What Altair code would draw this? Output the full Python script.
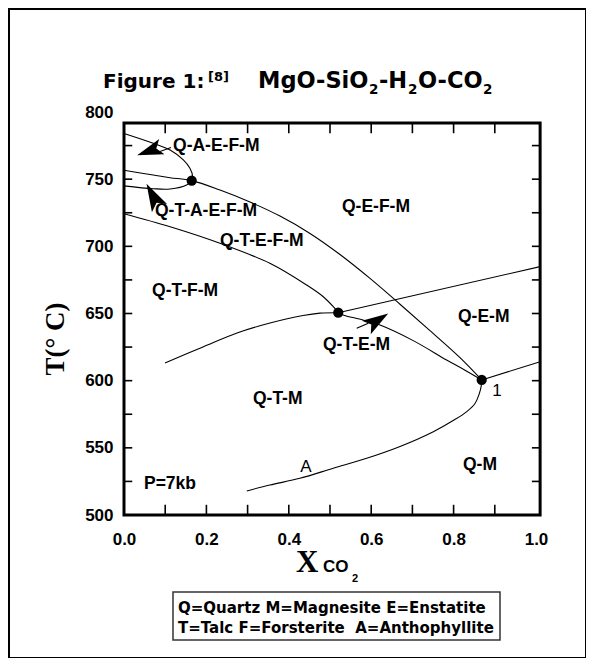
import altair as alt
import pandas as pd

# ---------------- data ----------------
# curves (x = X_CO2, y = T in deg C), listed in drawing order
anth_upper_x = [0.0, 0.071, 0.112, 0.144, 0.160, 0.1665, 0.164]
anth_upper_y = [784.0, 776.7, 771.7, 764.3, 758.1, 752.0, 749.0]

anth_lower_x = [0.164, 0.152, 0.112, 0.071, 0.0]
anth_lower_y = [749.0, 745.7, 742.7, 742.9, 745.0]

main_x = [0.0, 0.0711, 0.1117, 0.1643, 0.2330, 0.3058, 0.3786, 0.4515, 0.5243, 0.5971, 0.6699, 0.7427, 0.8155, 0.8682]
main_y = [756.6, 753.1, 751.1, 748.9, 741.9, 733.0, 722.5, 709.6, 693.9, 676.1, 656.9, 637.2, 617.1, 600.5]

tef_x = [0.0, 0.112, 0.233, 0.354, 0.4434, 0.4837, 0.508, 0.520]
tef_y = [724.3, 714.6, 702.3, 687.4, 671.2, 662.5, 655.1, 650.6]

tem_x = [0.520, 0.5316, 0.580, 0.6214, 0.702, 0.783, 0.8236, 0.8682]
tem_y = [650.6, 648.9, 645.2, 641.4, 629.8, 615.4, 608.5, 600.5]

qtm_left_x = [0.0995, 0.1917, 0.2743, 0.3544, 0.4345, 0.4757, 0.520]
qtm_left_y = [613.2, 625.1, 635.5, 642.9, 648.5, 650.3, 650.6]

qem_right_x = [0.520, 1.01]
qem_right_y = [650.6, 684.9]

inv1_right_x = [0.8682, 1.01]
inv1_right_y = [600.5, 614.1]

anthline_x = [0.8682, 0.867, 0.862, 0.852, 0.832, 0.800, 0.7508, 0.670, 0.589, 0.508, 0.427, 0.354, 0.298]
anthline_y = [600.5, 596.0, 590.0, 583.0, 577.0, 570.5, 562.0, 551.0, 542.2, 534.8, 527.3, 522.3, 517.9]

tail_a_x = [0.0874, 0.1141]
tail_a_y = [770.6, 773.6]
tail_b_x = [0.5648, 0.5930]
tail_b_y = [639.0, 642.7]

# invariant points
dot_x = [0.1643, 0.520, 0.8682]
dot_y = [748.9, 650.6, 600.5]

# arrowheads: centre, rotation (deg clockwise from up), size
arrow_x = [0.0619, 0.0704, 0.6148]
arrow_y = [771.0, 737.5, 644.8]
arrow_angle = [251, 332, 57]
arrow_size = [680, 760, 680]

# field labels
field_text = ["Q-A-E-F-M", "Q-T-A-E-F-M", "Q-T-E-F-M", "Q-T-F-M", "Q-E-F-M",
              "Q-E-M", "Q-T-E-M", "Q-T-M", "Q-M", "P=7kb"]
field_x = [0.119, 0.0752, 0.233, 0.068, 0.529, 0.8107, 0.483, 0.313, 0.8228, 0.0485]
field_y = [774.7, 726.3, 704.0, 666.8, 729.3, 647.4, 626.6, 586.4, 537.2, 523.1]

curve_text = ["A", "1"]
curve_tx = [0.4417, 0.9053]
curve_ty = [535.7, 592.3]

x_ticks_minor = [0.1, 0.2, 0.3, 0.4, 0.5, 0.6, 0.7, 0.8, 0.9]
y_ticks_minor = [525, 550, 575, 600, 625, 650, 675, 700, 725, 750, 775]
x_labels = [0.0, 0.2, 0.4, 0.6, 0.8, 1.0]
y_labels = [500, 550, 600, 650, 700, 750, 800]

legend_lines = ["Q=Quartz M=Magnesite E=Enstatite",
                "T=Talc F=Forsterite\u00a0 A=Anthophyllite"]

# frame of the plot area in data units, and inward tick lengths
X_LO, X_HI, Y_LO, Y_HI = 0.0, 1.01, 500.0, 791.8
TICK_DY = 7.6    # ~10 px
TICK_DX = 0.02   # ~8 px

# ---------------- build tables ----------------
curves = {
    "anth_upper": (anth_upper_x, anth_upper_y),
    "anth_lower": (anth_lower_x, anth_lower_y),
    "main": (main_x, main_y),
    "tef": (tef_x, tef_y),
    "tem": (tem_x, tem_y),
    "qtm_left": (qtm_left_x, qtm_left_y),
    "qem_right": (qem_right_x, qem_right_y),
    "inv1_right": (inv1_right_x, inv1_right_y),
    "anthline": (anthline_x, anthline_y),
    "tail_a": (tail_a_x, tail_a_y),
    "tail_b": (tail_b_x, tail_b_y),
}
rows = []
for name, (xs, ys) in curves.items():
    for i, (a, b) in enumerate(zip(xs, ys)):
        rows.append({"curve": name, "i": i, "x": a, "y": b})
curve_df = pd.DataFrame(rows)

tick_rows = []
for k, v in enumerate(x_ticks_minor):
    tick_rows += [{"curve": f"tb{k}", "i": 0, "x": v, "y": Y_LO},
                  {"curve": f"tb{k}", "i": 1, "x": v, "y": Y_LO + TICK_DY},
                  {"curve": f"tt{k}", "i": 0, "x": v, "y": Y_HI},
                  {"curve": f"tt{k}", "i": 1, "x": v, "y": Y_HI - TICK_DY}]
for k, v in enumerate(y_ticks_minor):
    tick_rows += [{"curve": f"tl{k}", "i": 0, "x": X_LO, "y": float(v)},
                  {"curve": f"tl{k}", "i": 1, "x": X_LO + TICK_DX, "y": float(v)},
                  {"curve": f"tr{k}", "i": 0, "x": X_HI, "y": float(v)},
                  {"curve": f"tr{k}", "i": 1, "x": X_HI - TICK_DX, "y": float(v)}]
tick_df = pd.DataFrame(tick_rows)

XS = alt.Scale(domain=[0, 1], nice=False, zero=False)
YS = alt.Scale(domain=[500, 800], nice=False, zero=False)

x_axis = alt.Axis(values=x_labels, format=".1f", title=None, ticks=False, tickSize=0,
                  domain=False, grid=False, labelFont="Liberation Sans", labelFontWeight="bold",
                  labelFontSize=17, labelPadding=16, labelColor="black", labelFlush=False,
                  labelOverlap=False)
y_axis = alt.Axis(values=y_labels, format="d", title=None, ticks=False, tickSize=0,
                  domain=False, grid=False, labelFont="Liberation Sans", labelFontWeight="bold",
                  labelFontSize=17, labelPadding=11, labelColor="black", labelOverlap=False)


def X(field="x"):
    return alt.X(f"{field}:Q", scale=XS, axis=x_axis)


def Y(field="y"):
    return alt.Y(f"{field}:Q", scale=YS, axis=y_axis)


lines = alt.Chart(curve_df).mark_line(color="black", strokeWidth=1.1,
                                      interpolate="catmull-rom").encode(
    x=X(), y=Y(), detail="curve:N", order="i:Q")

ticks = alt.Chart(tick_df).mark_line(color="black", strokeWidth=1.6,
                                     interpolate="linear").encode(
    x=X(), y=Y(), detail="curve:N", order="i:Q")

dots = alt.Chart(pd.DataFrame({"x": dot_x, "y": dot_y})).mark_circle(
    color="black", opacity=1, size=105).encode(x=X(), y=Y())

arrow_path = "M0,-1L0.62,1L0,0.55L-0.62,1Z"
arrows = alt.Chart(pd.DataFrame({"x": arrow_x, "y": arrow_y, "ang": arrow_angle,
                                 "sz": arrow_size})).mark_point(
    shape=arrow_path, filled=True, fill="black", strokeWidth=0, opacity=1).encode(
    x=X(), y=Y(), angle=alt.Angle("ang:Q", scale=None), size=alt.Size("sz:Q", scale=None))

fields = alt.Chart(pd.DataFrame({"x": field_x, "y": field_y, "t": field_text})).mark_text(
    align="left", baseline="middle", font="Liberation Sans", fontWeight="bold",
    fontSize=17.5, color="black").encode(x=X(), y=Y(), text="t:N")

clabels = alt.Chart(pd.DataFrame({"x": curve_tx, "y": curve_ty, "t": curve_text})).mark_text(
    align="center", baseline="middle", font="Liberation Sans", fontSize=17,
    color="black").encode(x=X(), y=Y(), text="t:N")

border = alt.Chart(pd.DataFrame({"x": [X_LO], "x2": [X_HI], "y": [Y_LO], "y2": [Y_HI]})).mark_rect(
    fillOpacity=0, stroke="black", strokeWidth=3).encode(x=X(), x2="x2:Q", y=Y(), y2="y2:Q")


def ann(text, x, y, **kw):
    style = dict(align="left", baseline="alphabetic", color="black")
    style.update(kw)
    return alt.Chart(pd.DataFrame({"t": [text]})).mark_text(**style).encode(
        text="t:N", x=alt.value(x), y=alt.value(y))


TF = dict(font="DejaVu Sans", fontWeight="bold")
title_parts = [
    ann("Figure 1:", -21, -24, fontSize=20, **TF),
    ann("[8]", 84, -31, fontSize=13, **TF),
    ann("MgO-SiO", 134, -24, fontSize=22.5, **TF),
    ann("2", 245, -18, fontSize=13.5, **TF),
    ann("-H", 255, -24, fontSize=22.5, **TF),
    ann("2", 284, -18, fontSize=13.5, **TF),
    ann("O-CO", 294, -24, fontSize=22.5, **TF),
    ann("2", 359, -18, fontSize=13.5, **TF),
    ann("X", 172, 460, font="Liberation Serif", fontWeight="bold", fontSize=31),
    ann("CO", 199, 460, font="Liberation Sans", fontWeight="bold", fontSize=17),
    ann("2", 228, 470, font="Liberation Sans", fontWeight="bold", fontSize=11),
    ann("T(\u00b0 C)", -68, 227, align="center", baseline="middle", angle=270,
        font="Liberation Serif", fontWeight="bold", fontSize=27),
    ann(legend_lines[0], 54, 496, baseline="middle", fontSize=15, **TF),
    ann(legend_lines[1], 54, 516, baseline="middle", fontSize=15, **TF),
]

box = alt.Chart(pd.DataFrame({"k": [0]})).mark_rect(
    fillOpacity=0, stroke="#333333", strokeWidth=1.5).encode(
    x=alt.value(49), x2=alt.value(376), y=alt.value(480), y2=alt.value(528))
frame = alt.Chart(pd.DataFrame({"k": [0]})).mark_rect(
    fillOpacity=0, stroke="black", strokeWidth=2).encode(
    x=alt.value(-115), x2=alt.value(462), y=alt.value(-103), y2=alt.value(546))

chart = alt.layer(lines, border, ticks, dots, arrows, fields, clabels,
                  box, frame, *title_parts).properties(
    width=412, height=403,
    padding={"left": 116, "top": 104, "right": 50, "bottom": 143},
    autosize=alt.AutoSizeParams(type="none"),
    background="white",
).configure_view(stroke=None)

chart.save("out.html", embed_options={"renderer": "svg", "actions": False})
